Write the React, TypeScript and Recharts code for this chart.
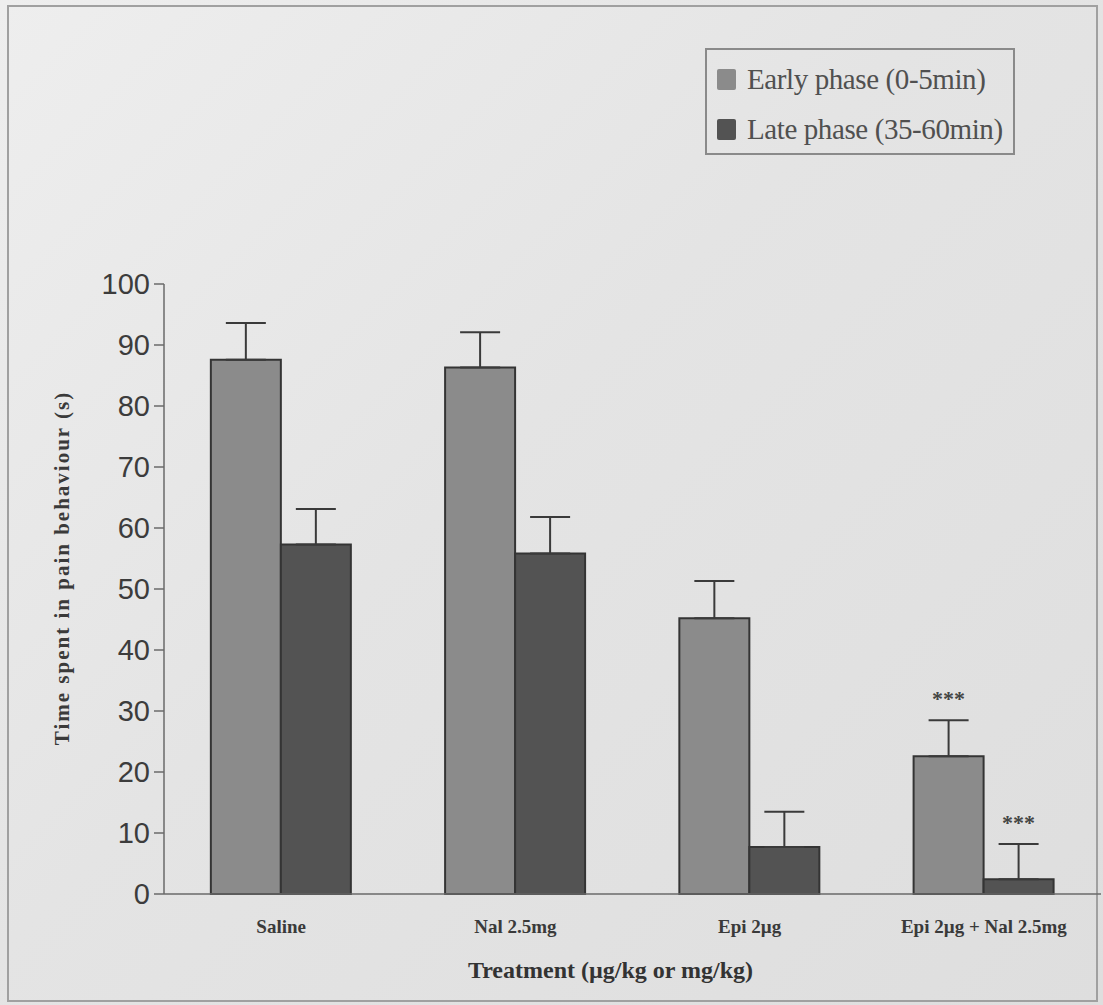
import { BarChart, Bar, XAxis, YAxis, ErrorBar, LabelList, Label } from 'recharts';

// Formalin test: time spent in pain behaviour per treatment group
const treatments = ['Saline', 'Nal 2.5mg', 'Epi 2\u00b5g', 'Epi 2\u00b5g + Nal 2.5mg'];
const earlyPhase = [87.6, 86.3, 45.2, 22.6];
const earlySem = [6.0, 5.8, 6.1, 5.9];
const latePhase = [57.3, 55.8, 7.7, 2.4];
const lateSem = [5.8, 6.0, 5.8, 5.8];
const earlyStars = ['', '', '', '***'];
const lateStars = ['', '', '', '***'];
const yTicks = [0, 10, 20, 30, 40, 50, 60, 70, 80, 90, 100];

const data = treatments.map((name, i) => ({
  name,
  early: earlyPhase[i],
  earlyErr: [0, earlySem[i]],
  earlyStar: earlyStars[i],
  late: latePhase[i],
  lateErr: [0, lateSem[i]],
  lateStar: lateStars[i],
}));

const SERIF = "'Liberation Serif', 'Times New Roman', serif";
const EARLY = '#8b8b8b';
const LATE = '#535353';
const EDGE = '#343434';

const starLabel = (vals: number[], errs: number[]) => (props: any) => {
  const { x, y, width, height, value, index } = props;
  if (!value) return null;
  const pxPerUnit = Number(height) / vals[index];
  const top = Number(y) - errs[index] * pxPerUnit;
  return (
    <text
      x={Number(x) + Number(width) / 2}
      y={top - 14}
      textAnchor="middle"
      fontFamily={SERIF}
      fontWeight={700}
      fontSize={22}
      fill="#444"
    >
      {value}
    </text>
  );
};

// y-axis title, centred on the plot height a little above the middle
const yTitle = (props: any) => {
  const { viewBox } = props;
  const cx = viewBox.x + 62;
  const cy = viewBox.y + viewBox.height / 2 - 21;
  return (
    <text
      x={cx}
      y={cy}
      transform={`rotate(-90 ${cx} ${cy})`}
      textAnchor="middle"
      dominantBaseline="central"
      fontFamily={SERIF}
      fontWeight={700}
      fontSize={21}
      letterSpacing={2}
      fill="#3a3a3a"
    >
      Time spent in pain behaviour (s)
    </text>
  );
};

const legendItems = [
  { label: 'Early phase (0-5min)', color: EARLY },
  { label: 'Late phase (35-60min)', color: LATE },
];

const LegendBox = () => (
  <div
    style={{
      position: 'absolute',
      left: 705,
      top: 48,
      width: 310,
      height: 107,
      boxSizing: 'border-box',
      border: '2px solid #8a8a8a',
      padding: '4px 0 0 10px',
      fontFamily: SERIF,
      fontSize: 29,
      color: '#505050',
      letterSpacing: -0.4,
    }}
  >
    {legendItems.map((it) => (
      <div key={it.label} style={{ display: 'flex', alignItems: 'center', height: 50, whiteSpace: 'nowrap' }}>
        <span
          style={{
            display: 'inline-block',
            width: 19,
            height: 21,
            background: it.color,
            marginRight: 11,
            borderRadius: 2,
          }}
        />
        {it.label}
      </div>
    ))}
  </div>
);

export default function App() {
  return (
    <div
      style={{
        position: 'absolute',
        left: 0,
        top: 0,
        width: 1103,
        height: 1005,
        background: 'linear-gradient(135deg, #eeeeee 0%, #e4e4e4 45%, #dedede 100%)',
        overflow: 'hidden',
      }}
    >
      <div
        style={{
          position: 'absolute',
          left: 7,
          top: 5,
          width: 1087,
          height: 993,
          border: '2px solid #a0a0a0',
        }}
      />
      <LegendBox />
      <BarChart
        width={1103}
        height={1005}
        data={data}
        margin={{ top: 284, right: 2, bottom: 21, left: 0 }}
        barGap={0}
        barCategoryGap="20%"
      >
        <XAxis
          dataKey="name"
          height={90}
          stroke="#6a6a6a"
          strokeWidth={1.5}
          tickLine={false}
          tick={{ fontFamily: SERIF, fontWeight: 700, fontSize: 19, fill: '#3a3a3a' }}
          tickMargin={20}
          interval={0}
        >
          <Label
            value={'Treatment (\u00b5g/kg or mg/kg)'}
            position="insideBottom"
            offset={6}
            dx={-22}
            style={{ fontFamily: SERIF, fontWeight: 700, fontSize: 24, fill: '#333' }}
          />
        </XAxis>
        <YAxis
          width={164}
          domain={[0, 100]}
          ticks={yTicks}
          interval={0}
          stroke="#6a6a6a"
          strokeWidth={1.5}
          tickSize={10}
          tickMargin={4}
          tick={{ fontFamily: 'Arial, Liberation Sans, sans-serif', fontSize: 29, fill: '#3c3c3c' }}
        >
          <Label content={yTitle} />
        </YAxis>
        <Bar dataKey="early" name="Early phase (0-5min)" fill={EARLY} stroke={EDGE} strokeWidth={2} isAnimationActive={false}>
          <ErrorBar dataKey="earlyErr" direction="y" width={20} stroke="#3a3a3a" strokeWidth={2} />
          <LabelList dataKey="earlyStar" content={starLabel(earlyPhase, earlySem)} />
        </Bar>
        <Bar dataKey="late" name="Late phase (35-60min)" fill={LATE} stroke={EDGE} strokeWidth={2} isAnimationActive={false}>
          <ErrorBar dataKey="lateErr" direction="y" width={20} stroke="#3a3a3a" strokeWidth={2} />
          <LabelList dataKey="lateStar" content={starLabel(latePhase, lateSem)} />
        </Bar>
      </BarChart>
    </div>
  );
}
